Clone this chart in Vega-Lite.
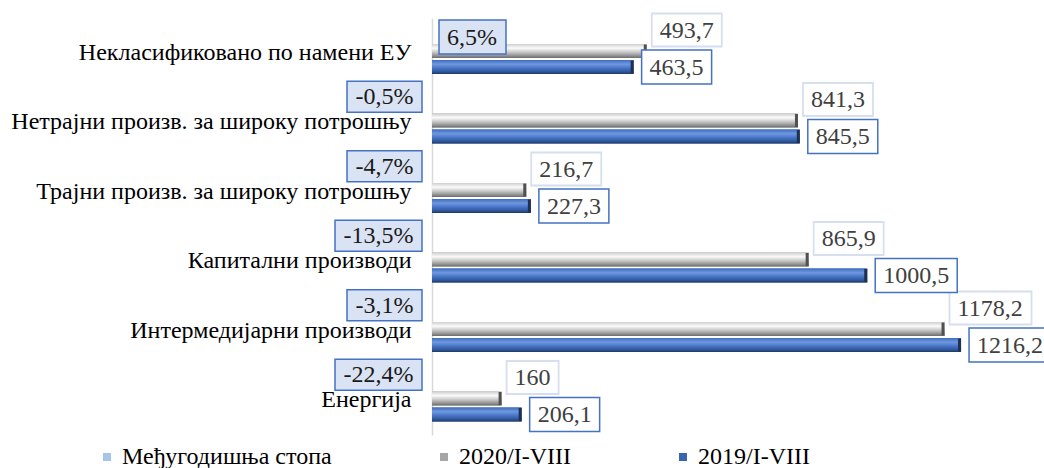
{
  "$schema": "https://vega.github.io/schema/vega-lite/v6.json",
  "width": 609,
  "height": 417,
  "autosize": {"type": "none"},
  "padding": {"left": 432, "top": 18, "right": 3, "bottom": 33},
  "config": {
    "view": {"stroke": null},
    "font": "Liberation Serif",
    "locale": {"number": {"decimal": ",", "thousands": ".", "grouping": [3], "currency": ["", ""], "minus": "-"}}
  },
  "datasets": {
    "bars": [
      {"category": "Некласификовано по намени ЕУ", "series": "2020/I-VIII", "value": 493.7},
      {"category": "Некласификовано по намени ЕУ", "series": "2019/I-VIII", "value": 463.5},
      {"category": "Нетрајни произв. за широку потрошњу", "series": "2020/I-VIII", "value": 841.3},
      {"category": "Нетрајни произв. за широку потрошњу", "series": "2019/I-VIII", "value": 845.5},
      {"category": "Трајни произв. за широку потрошњу", "series": "2020/I-VIII", "value": 216.7},
      {"category": "Трајни произв. за широку потрошњу", "series": "2019/I-VIII", "value": 227.3},
      {"category": "Капитални производи", "series": "2020/I-VIII", "value": 865.9},
      {"category": "Капитални производи", "series": "2019/I-VIII", "value": 1000.5},
      {"category": "Интермедијарни производи", "series": "2020/I-VIII", "value": 1178.2},
      {"category": "Интермедијарни производи", "series": "2019/I-VIII", "value": 1216.2},
      {"category": "Енергија", "series": "2020/I-VIII", "value": 160},
      {"category": "Енергија", "series": "2019/I-VIII", "value": 206.1}
    ],
    "rates": [
      {"category": "Некласификовано по намени ЕУ", "rate": 0.065},
      {"category": "Нетрајни произв. за широку потрошњу", "rate": -0.005},
      {"category": "Трајни произв. за широку потрошњу", "rate": -0.047},
      {"category": "Капитални производи", "rate": -0.135},
      {"category": "Интермедијарни производи", "rate": -0.031},
      {"category": "Енергија", "rate": -0.224}
    ]
  },
  "encoding": {
    "y": {
      "field": "category",
      "type": "nominal",
      "scale": {
        "domain": ["Некласификовано по намени ЕУ", "Нетрајни произв. за широку потрошњу", "Трајни произв. за широку потрошњу", "Капитални производи", "Интермедијарни производи", "Енергија"],
        "paddingInner": 0,
        "paddingOuter": 0
      },
      "axis": {
        "title": null,
        "domainColor": "#d9d9d9",
        "domainWidth": 1.5,
        "ticks": false,
        "grid": false,
        "labelFont": "Liberation Serif",
        "labelFontSize": 24,
        "labelColor": "#000000",
        "labelPadding": 21,
        "labelLimit": 430
      }
    }
  },
  "layer": [
    {
      "data": {"name": "bars"},
      "transform": [{"filter": "datum.series === '2020/I-VIII'"}],
      "mark": {"type": "bar", "height": 14, "yOffset": -1.75},
      "encoding": {
        "x": {"field": "value", "type": "quantitative", "scale": {"domain": [0, 1400], "nice": false}, "axis": null},
        "color": {
          "field": "series",
          "type": "nominal",
          "scale": {
            "domain": ["Међугодишња стопа", "2020/I-VIII", "2019/I-VIII"],
            "range": ["#a9c4eb", "#a6a6a6", "#3a64b0"]
          },
          "legend": {
            "orient": "none",
            "legendX": -337,
            "legendY": 427,
            "direction": "horizontal",
            "title": null,
            "symbolType": "square",
            "symbolSize": 64,
            "symbolStrokeWidth": 0,
            "labelFont": "Liberation Serif",
            "labelFontSize": 24,
            "labelColor": "#000000",
            "labelOffset": 3,
            "columnPadding": 100,
            "padding": 0,
            "labelLimit": 300
          }
        }
      }
    },
    {
      "data": {"name": "bars"},
      "transform": [{"filter": "datum.series === '2019/I-VIII'"}],
      "mark": {"type": "bar", "height": 14, "yOffset": 14.25},
      "encoding": {
        "x": {"field": "value", "type": "quantitative", "scale": {"domain": [0, 1400], "nice": false}, "axis": null},
        "color": {"field": "series", "type": "nominal"}
      }
    },
    {
      "data": {"name": "bars"},
      "transform": [{"filter": "datum.series === '2020/I-VIII'"}],
      "mark": {"type": "bar", "height": 14, "yOffset": -1.75,
        "color": {"gradient": "linear", "x1": 0, "y1": 0, "x2": 0, "y2": 1, "stops": [
          {"offset": 0, "color": "#cfcfcf"}, {"offset": 0.3, "color": "#fbfbfb"}, {"offset": 0.6, "color": "#c4c4c4"}, {"offset": 0.85, "color": "#8f8f8f"}, {"offset": 1, "color": "#6b6b6b"}]}},
      "encoding": {
        "x": {"field": "value", "type": "quantitative", "scale": {"domain": [0, 1400], "nice": false}, "axis": null}
      }
    },
    {
      "data": {"name": "bars"},
      "transform": [{"filter": "datum.series === '2019/I-VIII'"}],
      "mark": {"type": "bar", "height": 14, "yOffset": 14.25,
        "color": {"gradient": "linear", "x1": 0, "y1": 0, "x2": 0, "y2": 1, "stops": [
          {"offset": 0, "color": "#3f6cbf"}, {"offset": 0.3, "color": "#6f98de"}, {"offset": 0.6, "color": "#4472c4"}, {"offset": 0.85, "color": "#2f5597"}, {"offset": 1, "color": "#1f3864"}]}},
      "encoding": {
        "x": {"field": "value", "type": "quantitative", "scale": {"domain": [0, 1400], "nice": false}, "axis": null}
      }
    },
    {
      "data": {"name": "bars"},
      "transform": [{"filter": "datum.series === '2020/I-VIII'"}],
      "mark": {"type": "tick", "size": 13, "thickness": 3, "xOffset": -1.5, "yOffset": -1.75, "color": "#505050", "opacity": 1},
      "encoding": {
        "x": {"field": "value", "type": "quantitative", "scale": {"domain": [0, 1400], "nice": false}, "axis": null}
      }
    },
    {
      "data": {"name": "bars"},
      "transform": [{"filter": "datum.series === '2019/I-VIII'"}],
      "mark": {"type": "tick", "size": 13, "thickness": 3, "xOffset": -1.5, "yOffset": 14.25, "color": "#1f3050", "opacity": 1},
      "encoding": {
        "x": {"field": "value", "type": "quantitative", "scale": {"domain": [0, 1400], "nice": false}, "axis": null}
      }
    },
    {
      "data": {"name": "bars"},
      "transform": [
        {"filter": "datum.series === '2020/I-VIII'"},
        {"calculate": "format(datum.value, '.1~f')", "as": "s"},
        {"calculate": "12*length(datum.s) - ((indexof(datum.s, '.') >= 0 || indexof(datum.s, ',') >= 0) ? 6 : 0)", "as": "tw"},
        {"calculate": "datum.value + 5*1400/609", "as": "bx1"},
        {"calculate": "datum.value + (21 + datum.tw)*1400/609", "as": "bx2"}
      ],
      "mark": {"type": "bar", "height": 33, "yOffset": -22.75, "fill": "#ffffff", "stroke": "#d6dff0", "strokeWidth": 1.8},
      "encoding": {
        "x": {"field": "bx1", "type": "quantitative", "scale": {"domain": [0, 1400], "nice": false}, "axis": null},
        "x2": {"field": "bx2"}
      }
    },
    {
      "data": {"name": "bars"},
      "transform": [
        {"filter": "datum.series === '2019/I-VIII'"},
        {"calculate": "format(datum.value, '.1~f')", "as": "s"},
        {"calculate": "12*length(datum.s) - ((indexof(datum.s, '.') >= 0 || indexof(datum.s, ',') >= 0) ? 6 : 0)", "as": "tw"},
        {"calculate": "datum.value + 8*1400/609", "as": "bx1"},
        {"calculate": "datum.value + (24 + datum.tw)*1400/609", "as": "bx2"}
      ],
      "mark": {"type": "bar", "height": 34, "yOffset": 14.25, "fill": "#ffffff", "stroke": "#4472c4", "strokeWidth": 1.5},
      "encoding": {
        "x": {"field": "bx1", "type": "quantitative", "scale": {"domain": [0, 1400], "nice": false}, "axis": null},
        "x2": {"field": "bx2"}
      }
    },
    {
      "data": {"name": "bars"},
      "transform": [{"filter": "datum.series === '2020/I-VIII'"}],
      "mark": {"type": "text", "align": "left", "baseline": "middle", "dx": 13, "yOffset": -22, "font": "Liberation Serif", "fontSize": 24, "color": "#404040"},
      "encoding": {
        "x": {"field": "value", "type": "quantitative", "scale": {"domain": [0, 1400], "nice": false}, "axis": null},
        "text": {"field": "value", "type": "quantitative", "format": ".1~f"}
      }
    },
    {
      "data": {"name": "bars"},
      "transform": [{"filter": "datum.series === '2019/I-VIII'"}],
      "mark": {"type": "text", "align": "left", "baseline": "middle", "dx": 16, "yOffset": 15, "font": "Liberation Serif", "fontSize": 24, "color": "#404040"},
      "encoding": {
        "x": {"field": "value", "type": "quantitative", "scale": {"domain": [0, 1400], "nice": false}, "axis": null},
        "text": {"field": "value", "type": "quantitative", "format": ".1~f"}
      }
    },
    {
      "data": {"name": "rates"},
      "transform": [
        {"filter": "datum.rate < 0"},
        {"calculate": "format(abs(datum.rate), '.1%')", "as": "s"},
        {"calculate": "12*(length(datum.s) - 2) + 6 + 20 + 8", "as": "tw"},
        {"calculate": "-(27 + datum.tw)*1400/609", "as": "rx1"},
        {"calculate": "-10*1400/609", "as": "rx2"}
      ],
      "mark": {"type": "bar", "height": 31, "yOffset": -25.5, "fill": "#dae3f3", "stroke": "#4472c4", "strokeWidth": 1.5},
      "encoding": {
        "x": {"field": "rx1", "type": "quantitative", "scale": {"domain": [0, 1400], "nice": false}, "axis": null},
        "x2": {"field": "rx2"}
      }
    },
    {
      "data": {"name": "rates"},
      "transform": [
        {"filter": "datum.rate >= 0"},
        {"calculate": "format(abs(datum.rate), '.1%')", "as": "s"},
        {"calculate": "12*(length(datum.s) - 2) + 6 + 20", "as": "tw"},
        {"calculate": "7*1400/609", "as": "rx1"},
        {"calculate": "(24 + datum.tw)*1400/609", "as": "rx2"}
      ],
      "mark": {"type": "bar", "height": 34, "yOffset": -15.75, "fill": "#dae3f3", "stroke": "#4472c4", "strokeWidth": 1.5},
      "encoding": {
        "x": {"field": "rx1", "type": "quantitative", "scale": {"domain": [0, 1400], "nice": false}, "axis": null},
        "x2": {"field": "rx2"}
      }
    },
    {
      "data": {"name": "rates"},
      "transform": [{"filter": "datum.rate < 0"}],
      "mark": {"type": "text", "align": "right", "baseline": "middle", "dx": -18.5, "yOffset": -25, "font": "Liberation Serif", "fontSize": 24, "color": "#1a1a1a"},
      "encoding": {
        "x": {"datum": 0, "type": "quantitative", "scale": {"domain": [0, 1400], "nice": false}, "axis": null},
        "text": {"field": "rate", "type": "quantitative", "format": ".1%"}
      }
    },
    {
      "data": {"name": "rates"},
      "transform": [{"filter": "datum.rate >= 0"}],
      "mark": {"type": "text", "align": "left", "baseline": "middle", "dx": 15, "yOffset": -15, "font": "Liberation Serif", "fontSize": 24, "color": "#1a1a1a"},
      "encoding": {
        "x": {"datum": 0, "type": "quantitative", "scale": {"domain": [0, 1400], "nice": false}, "axis": null},
        "text": {"field": "rate", "type": "quantitative", "format": ".1%"}
      }
    }
  ]
}
